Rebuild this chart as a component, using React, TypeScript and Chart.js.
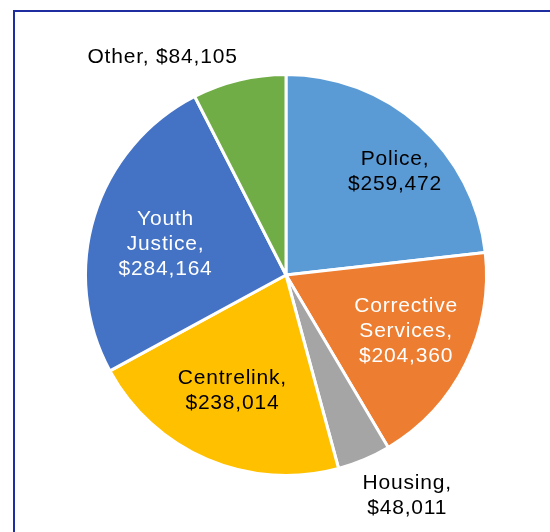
import React, { useEffect, useRef } from "react";
import { Chart, registerables } from "chart.js";

Chart.register(...registerables);

const categories = ["Police", "Corrective Services", "Housing", "Centrelink", "Youth Justice", "Other"];
const amounts = [259472, 204360, 48011, 238014, 284164, 84105];
const sliceColors = ["#5B9BD5", "#ED7D31", "#A5A5A5", "#FFC000", "#4472C4", "#70AD47"];

// label placement: angle offset from slice middle (deg), distance as fraction of radius
const labelAngleOffset = [4.8, -1.4, -5.8, 1.9, -2.8, -16.1];
const labelRadiusFrac = [0.746, 0.659, 1.254, 0.637, 0.622, 1.249];
const labelColors = ["#000000", "#FFFFFF", "#000000", "#000000", "#FFFFFF", "#000000"];
const labelOneLine = [false, false, false, false, false, true];

const FONT = "21px 'Liberation Sans', Arial, sans-serif";
const LINE_H = 25;

function fmt(v: number) {
  return "$" + v.toLocaleString("en-US");
}

const labelPlugin = {
  id: "sliceLabels",
  afterDatasetsDraw(chart: any) {
    const ctx = chart.ctx;
    const meta = chart.getDatasetMeta(0);
    ctx.save();
    ctx.font = FONT;
    try {
      (ctx as any).letterSpacing = "0.8px";
    } catch (e) {}
    ctx.textAlign = "center";
    ctx.textBaseline = "middle";
    meta.data.forEach((arc: any, i: number) => {
      const { x, y, startAngle, endAngle, outerRadius } = arc.getProps(
        ["x", "y", "startAngle", "endAngle", "outerRadius"],
        true
      );
      const mid = (startAngle + endAngle) / 2 + (labelAngleOffset[i] * Math.PI) / 180;
      const d = outerRadius * labelRadiusFrac[i];
      const lx = x + Math.cos(mid) * d;
      const ly = y + Math.sin(mid) * d;
      const name = categories[i];
      const lines = labelOneLine[i]
        ? [`${name}, ${fmt(amounts[i])}`]
        : [...name.split(" ").map((w, k, arr) => (k === arr.length - 1 ? w + "," : w)), fmt(amounts[i])];
      ctx.fillStyle = labelColors[i];
      const top = ly - ((lines.length - 1) * LINE_H) / 2;
      lines.forEach((ln: string, k: number) => {
        ctx.fillText(ln, lx + 0.4, top + k * LINE_H);
      });
    });
    ctx.restore();
  },
};

export default function App() {
  const ref = useRef<HTMLCanvasElement | null>(null);
  useEffect(() => {
    if (!ref.current) return;
    const chart = new Chart(ref.current, {
      type: "pie",
      data: {
        labels: categories,
        datasets: [
          {
            data: amounts,
            backgroundColor: sliceColors,
            borderColor: "#FFFFFF",
            borderWidth: 3,
          },
        ],
      },
      options: {
        responsive: false,
        animation: false,
        layout: { padding: { left: 84, top: 73, right: 62, bottom: 55 } },
        plugins: {
          legend: { display: false },
          tooltip: { enabled: false },
        },
      },
      plugins: [labelPlugin],
    });
    return () => chart.destroy();
  }, []);
  return (
    <div
      style={{
        position: "fixed",
        left: 0,
        top: 0,
        width: 550,
        height: 532,
        overflow: "hidden",
        background: "#FFFFFF",
      }}
    >
      <canvas ref={ref} width={550} height={532} style={{ position: "absolute", left: 0, top: 0 }} />
      <div
        style={{
          position: "absolute",
          left: 13,
          top: 10,
          width: 700,
          height: 700,
          borderTop: "2px solid #1E2DA0",
          borderLeft: "2px solid #1E2DA0",
          pointerEvents: "none",
        }}
      />
    </div>
  );
}
